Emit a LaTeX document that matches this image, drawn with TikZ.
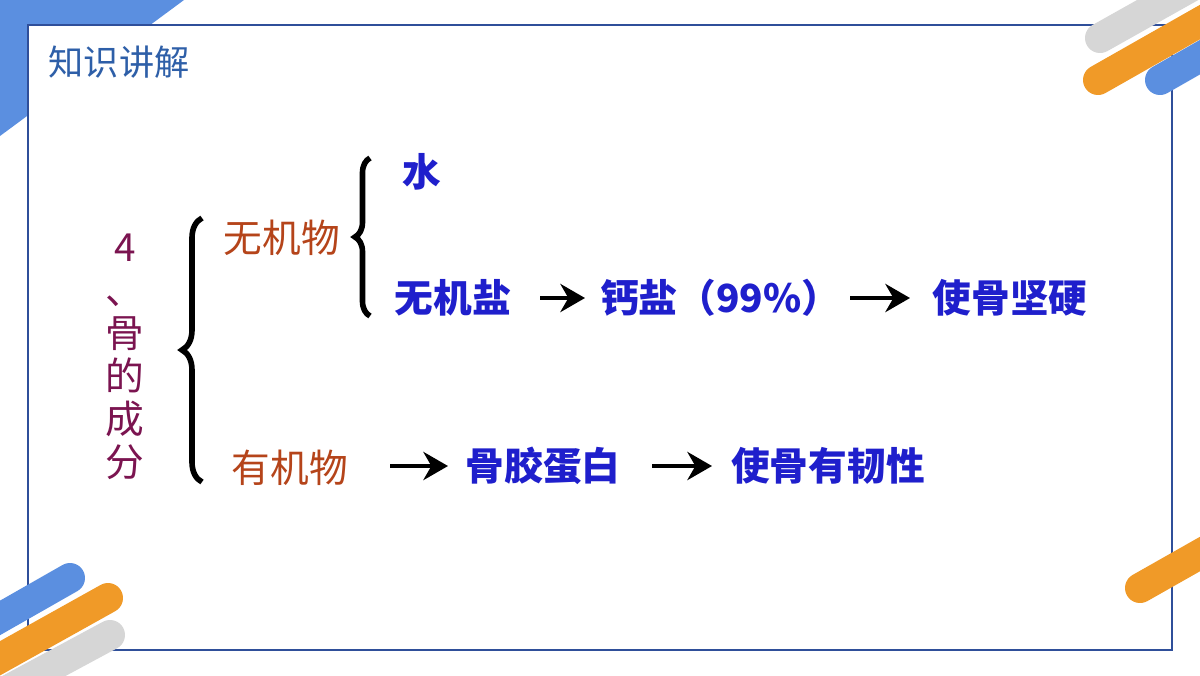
\documentclass[tikz,border=0pt]{standalone}
\usepackage{fontspec}
\setmainfont{Noto Sans CJK SC}
\usetikzlibrary{arrows.meta,positioning,decorations.pathreplacing}
\definecolor{frameblue}{HTML}{2F4F9A}
\definecolor{decoblue}{HTML}{5B8FE0}
\definecolor{decoorange}{HTML}{F09A28}
\definecolor{decogray}{HTML}{D6D6D6}
\definecolor{titleblue}{HTML}{2E5FA8}
\definecolor{termred}{HTML}{B5441A}
\definecolor{termblue}{HTML}{1F1FCC}
\definecolor{headplum}{HTML}{7B1450}
\tikzset{
	every node/.style={font=\fontsize{11pt}{13pt}\selectfont, inner sep=1pt},
	redterm/.style={text=termred},
	blueterm/.style={text=termblue, font=\fontsize{11pt}{13pt}\selectfont\bfseries},
	stripe/.style={line width=0.3cm, line cap=round},
	bracepath/.style={decorate, line width=1.6pt, decoration={brace, amplitude=#1}}
}
\begin{document}
\begin{tikzpicture}[->, >={Stealth[length=7pt,width=8pt]}, x=0.01cm, y=-0.01cm]
	\useasboundingbox (0,0) rectangle (1200,675);
	% Decorations
	\fill[decoblue] (0,0) -- (184,0) -- (0,136) -- cycle;
	\draw[-, semithick, frameblue, fill=white] (28,25) rectangle (1172,650);
	\draw[-, stripe, decogray] (1100,38) -- (1230,-35);
	\draw[-, stripe, decoblue] (1160,80) -- (1230,40);
	\draw[-, stripe, decoorange] (1098,80) -- (1230,5);
	\draw[-, stripe, decoblue] (-30,635) -- (70,578);
	\draw[-, stripe, decogray] (-20,705) -- (110,635);
	\draw[-, stripe, decoorange] (-30,675) -- (108,598);
	\draw[-, stripe, decoorange] (1140,588) -- (1230,537);
	\node[text=titleblue, font=\fontsize{10pt}{12pt}\selectfont] (title) at (119,62) {知识讲解};

	% Heading
	\node[text=headplum, align=center, font=\fontsize{11pt}{12.2pt}\selectfont] (head) at (125,357)
		{4\\、\\骨\\的\\成\\分};

	% Braces
	\draw[-, bracepath=0.2cm] (202,482) -- (202,218);
	\draw[-, bracepath=0.15cm] (370,316) -- (370,158);

	% Terms
	\node[redterm] (inorg) at (282,238) {无机物};
	\node[redterm] (org) at (290,468) {有机物};
	\node[blueterm] (water) at (422,172) {水};
	\node[blueterm] (salt) at (453,298) {无机盐};
	\node[blueterm] (calcium) at (720,298) {钙盐（99\%）};
	\node[blueterm] (hard) at (1010,298) {使骨坚硬};
	\node[blueterm] (protein) at (543,466) {骨胶蛋白};
	\node[blueterm] (tough) at (828,466) {使骨有韧性};

	% Arrows
	\draw[very thick] (540,298) -- (585,298);
	\draw[very thick] (850,298) -- (910,298);
	\draw[very thick] (390,466) -- (448,466);
	\draw[very thick] (652,466) -- (712,466);
\end{tikzpicture}
\end{document}
